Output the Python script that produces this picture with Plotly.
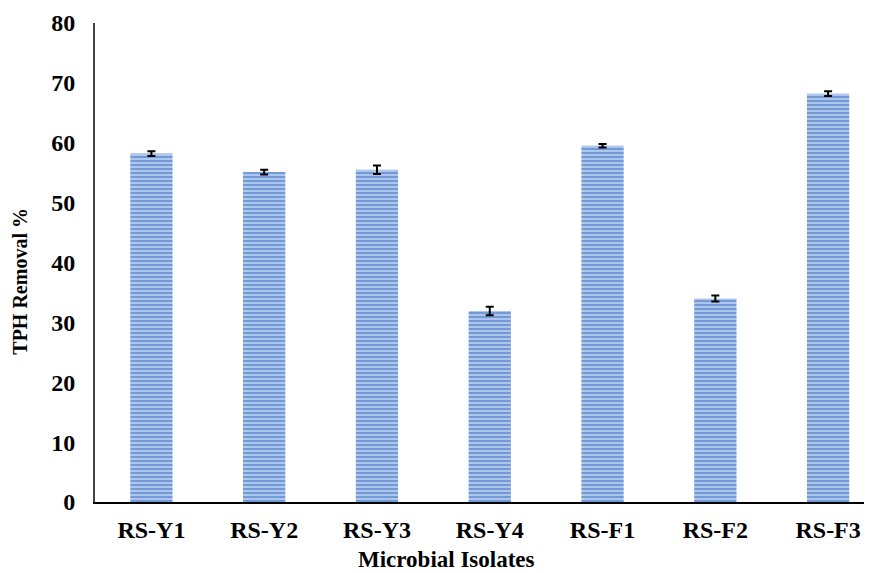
import plotly.graph_objects as go

categories = ["RS-Y1", "RS-Y2", "RS-Y3", "RS-Y4", "RS-F1", "RS-F2", "RS-F3"]
removal = [58.2, 55.1, 55.5, 31.9, 59.5, 34.0, 68.2]
errors = [0.4, 0.4, 0.7, 0.7, 0.3, 0.5, 0.4]
y_ticks = [0, 10, 20, 30, 40, 50, 60, 70, 80]

font_family = "Liberation Serif, Times New Roman, serif"

fig = go.Figure()
fig.add_trace(go.Bar(
    x=categories,
    y=removal,
    width=0.375,
    marker=dict(
        color="#9fbbe6",
        line=dict(width=0),
        pattern=dict(shape="-", fgcolor="#3a6cc2", bgcolor="#adc6ec", size=4, solidity=0.5),
    ),
    error_y=dict(type="data", array=errors, visible=True, color="black", thickness=2, width=4),
))

fig.update_layout(
    width=872, height=573,
    margin=dict(l=87, r=0, t=15, b=79),
    paper_bgcolor="white", plot_bgcolor="white",
    showlegend=False,
    font=dict(family=font_family, size=24, color="black"),
    xaxis=dict(
        range=[-0.5, 6.46],
        automargin=False,
        showline=True, linecolor="black", linewidth=2,
        ticks="", showgrid=False,
        ticklabelstandoff=5,
        tickfont=dict(family=font_family, size=24, color="black", weight="bold"),
    ),
    yaxis=dict(
        range=[0, 80],
        automargin=False,
        tickvals=y_ticks,
        showline=True, linecolor="#444", linewidth=2,
        ticks="", showgrid=False, zeroline=False,
        ticklabelstandoff=13,
        tickfont=dict(family=font_family, size=24, color="black", weight="bold"),
    ),
    annotations=[
        dict(text="<b>Microbial Isolates</b>", xref="paper", yref="paper",
             x=0.448, y=-0.119, xanchor="center", yanchor="middle", showarrow=False,
             font=dict(family=font_family, size=23, color="black")),
        dict(text="<b>TPH Removal %</b>", xref="paper", yref="paper", textangle=-90,
             x=-0.0955, y=0.46, xanchor="center", yanchor="middle", showarrow=False,
             font=dict(family=font_family, size=20, color="black")),
    ],
)

fig.write_html("out.html")
